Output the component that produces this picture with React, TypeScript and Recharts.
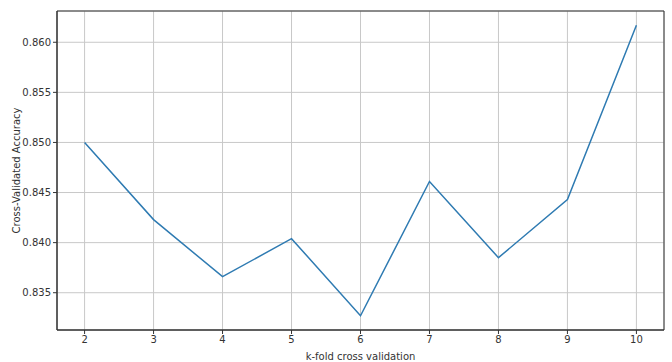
import { LineChart, Line, XAxis, YAxis, CartesianGrid, ReferenceArea } from 'recharts';

const folds = [2, 3, 4, 5, 6, 7, 8, 9, 10];
const accuracy = [0.85, 0.8423, 0.8366, 0.8404, 0.8327, 0.8461, 0.8385, 0.8443, 0.8617];
const xTicks = [2, 3, 4, 5, 6, 7, 8, 9, 10];
const yTicks = [0.835, 0.84, 0.845, 0.85, 0.855, 0.86];

const data = folds.map((k, i) => ({ k, acc: accuracy[i] }));

const X_DOMAIN: [number, number] = [1.6, 10.4];
const Y_DOMAIN: [number, number] = [0.83128, 0.86312];

const font = { fontFamily: 'DejaVu Sans', fontSize: 10, fill: '#333' };

const YLabel = (props: any) => {
  const vb = props.viewBox;
  const cx = vb.x + 16;
  const cy = vb.y + vb.height / 2;
  return (
    <text x={cx} y={cy} transform={`rotate(-90, ${cx}, ${cy})`} textAnchor="middle" dominantBaseline="central" {...font}>
      Cross-Validated Accuracy
    </text>
  );
};

export default function App() {
  return (
    <div style={{ position: 'absolute', left: 0, top: 0, width: 672, height: 362, background: '#fff' }}>
      <LineChart width={672} height={362} data={data} margin={{ top: 11, right: 8, bottom: 0, left: 0 }}>
        <CartesianGrid stroke="#c8c8c8" strokeWidth={1} verticalPoints={undefined} />
        <XAxis
          dataKey="k"
          type="number"
          domain={X_DOMAIN}
          ticks={xTicks}
          height={32}
          tick={font}
          tickSize={4}
          stroke="#333"
          axisLine={{ stroke: '#333' }}
          tickLine={{ stroke: '#333' }}
          label={{ value: 'k-fold cross validation', position: 'insideBottom', offset: 2, style: { ...font } }}
        />
        <YAxis
          type="number"
          domain={Y_DOMAIN}
          ticks={yTicks}
          width={57}
          tick={font}
          tickSize={4}
          tickFormatter={(v: number) => v.toFixed(3)}
          axisLine={{ stroke: '#333' }}
          tickLine={{ stroke: '#333' }}
          allowDataOverflow
          label={<YLabel />}
        />
        <ReferenceArea x1={X_DOMAIN[0]} x2={X_DOMAIN[1]} y1={Y_DOMAIN[0]} y2={Y_DOMAIN[1]} fill="none" stroke="#333" strokeWidth={1} fillOpacity={0} />
        <Line type="linear" dataKey="acc" stroke="#2f7bb2" strokeWidth={1.5} dot={false} isAnimationActive={false} />
      </LineChart>
    </div>
  );
}
